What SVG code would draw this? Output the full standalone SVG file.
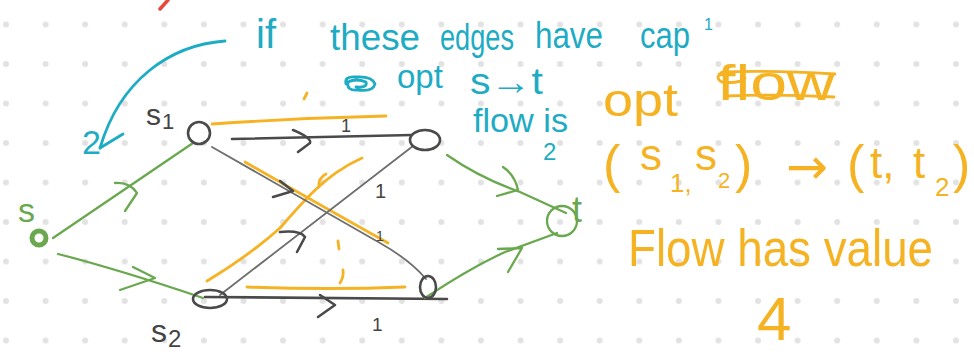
<svg xmlns="http://www.w3.org/2000/svg" width="974" height="354" viewBox="0 0 974 354">
<defs>
<pattern id="dots" patternUnits="userSpaceOnUse" x="-13.79" y="4.75" width="39.58" height="39.5">
<circle cx="19.79" cy="19.75" r="3" fill="#e2e2e2"/>
</pattern>
<style>
.g{fill:none;stroke:#6aa84f;stroke-width:2.3;stroke-linecap:round;stroke-linejoin:round}
.k{fill:none;stroke:#4a4a4a;stroke-width:2.6;stroke-linecap:round;stroke-linejoin:round}
.k2{fill:none;stroke:#6e6e6e;stroke-width:1.8;stroke-linecap:round;stroke-linejoin:round}
.o{fill:none;stroke:#f5b324;stroke-width:2.8;stroke-linecap:round;stroke-linejoin:round}
.c{fill:none;stroke:#1eabc4;stroke-width:2.8;stroke-linecap:round;stroke-linejoin:round}
text{font-family:"Liberation Sans",Arial,sans-serif}
.tc{fill:#1eabc4}
.to{fill:#f5b324}
.tk{fill:#444}
.tg{fill:#6aa84f}
.arr{font-family:"DejaVu Sans",sans-serif}
</style>
</defs>
<rect width="974" height="354" fill="#ffffff"/>
<rect width="974" height="354" fill="url(#dots)"/>

<!-- red mark -->
<path d="M160,9 L168,0" fill="none" stroke="#e8483a" stroke-width="3.5" stroke-linecap="round"/>

<!-- flow lines (orange) -->
<g id="flow">
<path class="o" d="M212,124 Q300,118 386,116"/>
<path class="o" d="M245,162 Q320,205 388,243"/>
<path class="o" d="M207,281 Q250,255 280,228 Q300,205 312,193 Q335,170 362,158"/>
<path class="o" d="M247,287 Q330,290 405,287"/>
<path class="o" d="M307,93 L304,99"/>
<path class="o" d="M326,174 Q318,178 319,187"/>
<path class="o" d="M338,241 L339,249"/>
<path class="o" d="M343,270 Q344,277 340,283"/>
</g>

<!-- connectors -->
<g id="connectors">
<path class="g" d="M53,238 L193,143"/>
<path class="g" d="M115,183 Q130,182 137,193 L125,211"/>
<path class="g" d="M58,254 Q120,270 203,298"/>
<path class="g" d="M133,267 L155,278 L120,290"/>
<path class="k" d="M232,139 Q330,137 412,135"/>
<path class="k" d="M293,130 Q312,138 310,143 L298,152"/>
<path class="k2" d="M212,147 L380,243 Q410,260 426,279"/>
<path class="k" d="M280,181 L293,191 L273,197"/>
<path class="k2" d="M220,295 L413,146"/>
<path class="k" d="M280,232 Q300,230 305,237 L297,252"/>
<path class="k" d="M205,297 L447,299"/>
<path class="k" d="M320,295 L335,305 L318,317"/>
<path class="g" d="M447,155 Q480,178 520,192 L566,213"/>
<path class="g" d="M503,167 Q515,175 518,190 L497,196"/>
<path class="g" d="M425,298 Q470,268 505,252 L557,233"/>
<path class="g" d="M498,249 L522,248 L508,272"/>
</g>

<!-- capacity labels -->
<g id="caps">
<text class="tk" x="341" y="132" font-size="18">1</text>
<text class="tk" x="375" y="198" font-size="20">1</text>
<text class="tk" x="376" y="241" font-size="14">1</text>
<text class="tk" x="372" y="331" font-size="19">1</text>
</g>

<!-- nodes -->
<g id="node-s">
<circle cx="39" cy="238" r="7" fill="none" stroke="#6aa84f" stroke-width="5"/>
<text class="tg" x="18" y="222" font-size="34">s</text>
</g>
<g id="node-s1">
<circle cx="199" cy="133" r="11" class="k"/>
<text class="tk"><tspan x="146" y="125" font-size="30">s</tspan><tspan x="162" y="129" font-size="22">1</tspan></text>
</g>
<g id="node-s2">
<ellipse cx="210" cy="299" rx="17" ry="9" class="k"/>
<text class="tk"><tspan x="151" y="342" font-size="32">s</tspan><tspan x="168" y="347" font-size="24">2</tspan></text>
</g>
<g id="node-a">
<ellipse cx="425" cy="140" rx="15" ry="10" class="k"/>
</g>
<g id="node-b">
<ellipse cx="428" cy="287" rx="8" ry="11" class="k"/>
</g>
<g id="node-t">
<circle cx="562" cy="221" r="15" class="g"/>
<text class="tg" x="572" y="222" font-size="36">t</text>
</g>

<!-- teal note -->
<g id="note-teal">
<path class="c" d="M225,41 C170,45 120,80 100,148"/>
<path class="c" d="M100,148 L123,134"/>
<text class="tc" x="82" y="154" font-size="34">2</text>
<text class="tc" font-size="36"><tspan x="256" y="48" font-size="40">if</tspan><tspan x="330" y="50" textLength="90" lengthAdjust="spacingAndGlyphs">these</tspan><tspan x="440" y="50" textLength="74" lengthAdjust="spacingAndGlyphs">edges</tspan><tspan x="535" y="48" textLength="68" lengthAdjust="spacingAndGlyphs">have</tspan><tspan x="640" y="48" textLength="50" lengthAdjust="spacingAndGlyphs">cap</tspan><tspan x="704" y="30" font-size="16">1</tspan></text>
<path class="c" d="M346,84 Q344,76 356,77 Q372,76 375,84 Q373,92 358,90 Q346,91 348,82 Q356,78 366,82 Q368,88 356,87" stroke-width="3.5"/>
<text class="tc"><tspan x="397" y="88" font-size="33">opt</tspan><tspan x="470" y="94" font-size="36" textLength="73" lengthAdjust="spacingAndGlyphs">s→t</tspan></text>
<text class="tc" x="473" y="132" font-size="33" textLength="95" lengthAdjust="spacingAndGlyphs">flow is</text>
<text class="tc" x="543" y="160" font-size="24">2</text>
</g>

<!-- orange note -->
<g id="note-orange">
<text class="to" x="603" y="116" font-size="46" textLength="75" lengthAdjust="spacingAndGlyphs">opt</text>
<text class="to" x="717" y="100" font-size="50" textLength="118" lengthAdjust="spacingAndGlyphs">flow</text>
<path class="o" d="M835,74 Q770,70 722,72 Q714,78 722,82 Q740,84 745,78"/>
<path class="o" d="M727,96 Q780,94 834,97"/>
<text class="to" font-size="44"><tspan x="603" y="182" font-size="52">(</tspan><tspan x="640" y="170">s</tspan><tspan x="670" y="192" font-size="26">1,</tspan><tspan x="695" y="170">s</tspan><tspan x="718" y="188" font-size="22">2</tspan><tspan x="735" y="182" font-size="52">)</tspan><tspan class="arr" x="786" y="184" font-size="50">→</tspan><tspan x="847" y="182" font-size="52">(</tspan><tspan x="870" y="178">t,</tspan><tspan x="913" y="178">t</tspan><tspan x="935" y="196" font-size="26">2</tspan><tspan x="953" y="182" font-size="52">)</tspan></text>
<text class="to" x="628" y="266" font-size="52" textLength="305" lengthAdjust="spacingAndGlyphs">Flow has value</text>
<text class="to" x="757" y="340" font-size="62">4</text>
</g>
</svg>
